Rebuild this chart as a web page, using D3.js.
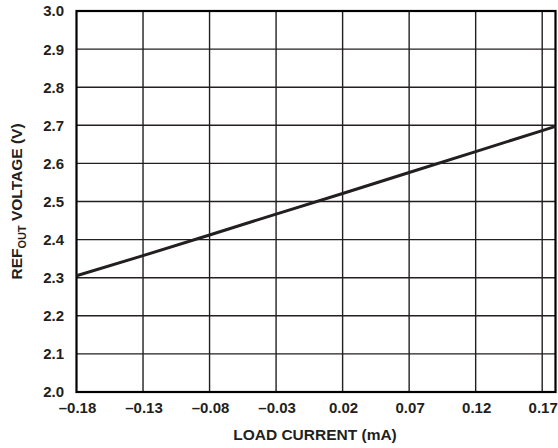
<!DOCTYPE html>
<html>
<head>
<meta charset="utf-8">
<script src="https://cdn.jsdelivr.net/npm/d3@7"></script>
<style>
  body { margin: 0; background: #fff; }
  text { font-family: "Liberation Sans", Arial, sans-serif; font-weight: bold; fill: #231f20; }
</style>
</head>
<body>
<svg id="chart" width="558" height="448"></svg>
<script>
const xTicks = [-0.18, -0.13, -0.08, -0.03, 0.02, 0.07, 0.12, 0.17];
const xTickLabels = ["\u20130.18", "\u20130.13", "\u20130.08", "\u20130.03", "0.02", "0.07", "0.12", "0.17"];
const yTicks = [2.0, 2.1, 2.2, 2.3, 2.4, 2.5, 2.6, 2.7, 2.8, 2.9, 3.0];
const currentMA = [-0.18, -0.13, -0.08, -0.03, 0.02, 0.07, 0.12, 0.17, 0.18];
const refOutV = [2.305, 2.358, 2.412, 2.467, 2.521, 2.576, 2.631, 2.686, 2.697];

const svg = d3.select("#chart");
const m = { left: 76.5, top: 11, right: 555.5, bottom: 392 };
const x = d3.scaleLinear().domain([-0.18, 0.18]).range([m.left, m.right]);
const y = d3.scaleLinear().domain([2.0, 3.0]).range([m.bottom, m.top]);

// grid
svg.append("g").selectAll("line.v").data(xTicks.slice(1)).join("line")
  .attr("x1", d => x(d)).attr("x2", d => x(d))
  .attr("y1", m.top).attr("y2", m.bottom)
  .attr("stroke", "#231f20").attr("stroke-width", 1.4);
svg.append("g").selectAll("line.h").data(yTicks.slice(1, -1)).join("line")
  .attr("y1", d => y(d)).attr("y2", d => y(d))
  .attr("x1", m.left).attr("x2", m.right)
  .attr("stroke", "#231f20").attr("stroke-width", 1.4);

// frame
svg.append("rect")
  .attr("x", m.left).attr("y", m.top)
  .attr("width", m.right - m.left).attr("height", m.bottom - m.top)
  .attr("fill", "none").attr("stroke", "#000").attr("stroke-width", 2.2);

// data line
svg.append("path")
  .datum(currentMA.map((c, i) => [c, refOutV[i]]))
  .attr("d", d3.line().x(d => x(d[0])).y(d => y(d[1])))
  .attr("fill", "none").attr("stroke", "#231f20").attr("stroke-width", 3);

// y tick labels
svg.append("g").selectAll("text").data(yTicks).join("text")
  .attr("x", 64).attr("y", d => y(d)).attr("dy", "0.36em")
  .attr("text-anchor", "end").attr("font-size", 15)
  .text(d => d.toFixed(1));

// x tick labels
svg.append("g").selectAll("text").data(xTicks).join("text")
  .attr("x", d => x(d) + 1).attr("y", 413)
  .attr("text-anchor", "middle").attr("font-size", 15)
  .text((d, i) => xTickLabels[i]);

// x title
svg.append("text")
  .attr("x", 315).attr("y", 440)
  .attr("text-anchor", "middle").attr("font-size", 15.5)
  .text("LOAD CURRENT (mA)");

// y title
const yt = svg.append("text")
  .attr("transform", `translate(22,${(m.top + m.bottom) / 2}) rotate(-90)`)
  .attr("text-anchor", "middle").attr("font-size", 15.5);
yt.append("tspan").text("REF");
yt.append("tspan").attr("font-size", 11).attr("dy", 4).text("OUT");
yt.append("tspan").attr("dy", -4).text(" VOLTAGE (V)");
</script>
</body>
</html>
